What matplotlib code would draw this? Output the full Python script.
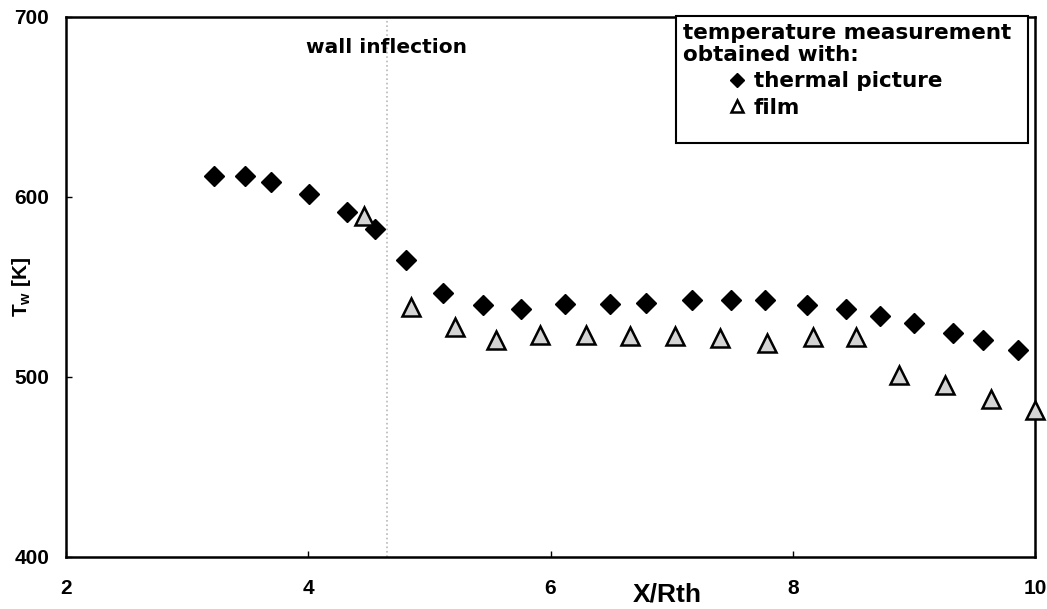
import matplotlib
matplotlib.use("Agg")
import matplotlib.pyplot as plt
from matplotlib.patches import Rectangle

# thermal picture (black diamonds)
x_thermal = [3.22, 3.48, 3.69, 4.01, 4.32, 4.55, 4.81, 5.11, 5.44, 5.76, 6.12,
             6.49, 6.79, 7.17, 7.49, 7.77, 8.12, 8.44, 8.72, 9.00, 9.32, 9.57, 9.86]
t_thermal = [611.7, 611.7, 608.3, 601.3, 591.3, 581.9, 564.8, 546.3, 539.7, 537.6,
             540.4, 540.4, 541.1, 542.4, 542.4, 542.4, 539.6, 537.7, 533.6, 529.7,
             524.3, 520.4, 514.6]

# film (grey triangles)
x_film = [4.46, 4.85, 5.21, 5.55, 5.91, 6.29, 6.66, 7.03, 7.40, 7.79, 8.17,
          8.52, 8.88, 9.26, 9.64, 10.0]
t_film = [589.4, 538.9, 527.8, 520.4, 523.2, 523.2, 522.6, 522.6, 521.7, 518.9,
          522.3, 522.3, 501.1, 495.4, 487.5, 481.3]

x_inflection = 4.65

plt.rcParams["mathtext.fontset"] = "custom"
plt.rcParams["mathtext.bf"] = "Liberation Sans:bold"
plt.rcParams["mathtext.rm"] = "Liberation Sans"

W, H = 1047, 609
fig = plt.figure(figsize=(W / 100, H / 100), dpi=100)
ax_l, ax_r, ax_t, ax_b = 66, 1035, 16.7, 556.7
ax = fig.add_axes([ax_l / W, 1 - ax_b / H, (ax_r - ax_l) / W, (ax_b - ax_t) / H])
aw, ah = ax_r - ax_l, ax_b - ax_t

ax.axvline(x_inflection, color="#b8b8b8", linestyle=":", linewidth=1.2, zorder=1)

ax.plot(x_thermal, t_thermal, linestyle="none", marker="D", markersize=10.5,
        color="black", label="thermal picture", zorder=3, clip_on=False)
ax.plot(x_film, t_film, linestyle="none", marker="^", markersize=12.5,
        markerfacecolor="#d4d4d4", markeredgecolor="black", markeredgewidth=1.8,
        label="film", zorder=3, clip_on=False)

ax.set_xlim(2, 10)
ax.set_ylim(400, 700)
ax.set_xticks([2, 4, 6, 8, 10])
ax.set_yticks([400, 500, 600, 700])

for s in ax.spines.values():
    s.set_linewidth(1.8)

ax.tick_params(direction="in", length=4, width=1)
ax.tick_params(axis="y", pad=12)
ax.tick_params(axis="x", pad=16)
for lab in ax.get_xticklabels() + ax.get_yticklabels():
    lab.set_fontfamily("Liberation Sans")
    lab.set_fontweight("bold")
    lab.set_fontsize(15)

ax.set_xlabel("X/Rth", fontfamily="Liberation Sans", fontweight="bold",
              fontsize=19, va="center")
ax.xaxis.set_label_coords((667 - ax_l) / aw, -(595 - ax_b) / ah)
ax.set_ylabel(r"$\mathbf{T_w}$ [K]", fontfamily="Liberation Sans",
              fontweight="bold", fontsize=15)
ax.yaxis.set_label_coords(-(ax_l - 33) / aw, 0.50)

ax.text(x_inflection, 683, "wall inflection", ha="center", va="center",
        fontfamily="DejaVu Sans", fontweight="bold", fontsize=14.5)

# legend box as in the original (taller than its contents)
box_l, box_r, box_t, box_b = 676, 1028, 16, 143
ax.add_patch(Rectangle(((box_l - ax_l) / aw, 1 - (box_b - ax_t) / ah),
                       (box_r - box_l) / aw, (box_b - box_t) / ah,
                       transform=ax.transAxes, facecolor="white",
                       edgecolor="black", linewidth=1.5, zorder=4,
                       clip_on=False))

leg = ax.legend(loc="upper left",
                bbox_to_anchor=((683 - ax_l) / aw, 1 - (23 - ax_t) / ah),
                borderaxespad=0, borderpad=0, frameon=False,
                title="temperature measurement\nobtained with:",
                alignment="left",
                prop={"family": "DejaVu Sans", "weight": "bold", "size": 15.5},
                title_fontproperties={"family": "DejaVu Sans", "weight": "bold",
                                      "size": 15.5},
                markerscale=0.72, handlelength=5.0, handletextpad=-1.7,
                labelspacing=0.3)
leg.set_zorder(5)
leg.get_title().set_linespacing(1.12)
leg.legend_handles[1].set_markerfacecolor("white")

fig.savefig("out.png", dpi=100)
